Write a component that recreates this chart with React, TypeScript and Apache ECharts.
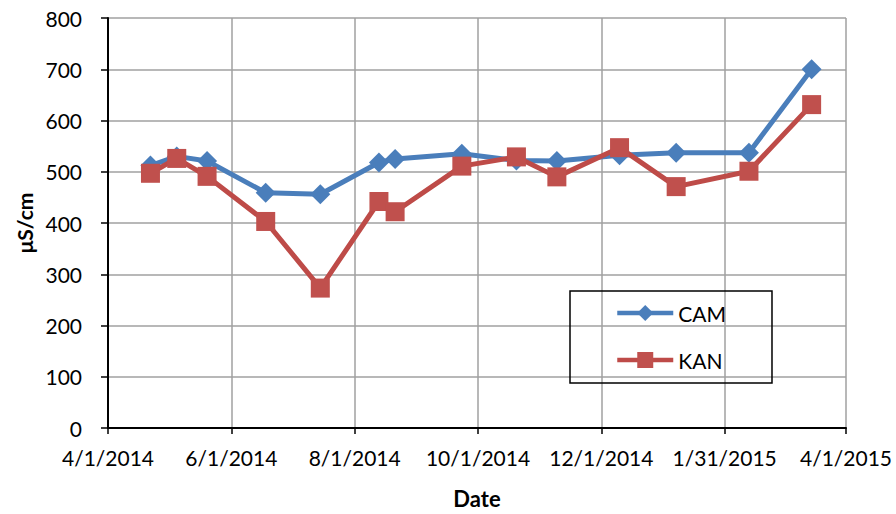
import React, { useEffect, useRef } from "react";
import * as echarts from "echarts";

const sampleDates = [
  "2014-04-22", "2014-05-05", "2014-05-20", "2014-06-18", "2014-07-15",
  "2014-08-13", "2014-08-21", "2014-09-23", "2014-10-20", "2014-11-09",
  "2014-12-10", "2015-01-07", "2015-02-12", "2015-03-15",
];
const camValues = [512, 530, 521, 459, 456, 518, 525, 535, 522, 521, 532, 537, 537, 700];
const kanValues = [497, 526, 491, 403, 273, 442, 422, 511, 529, 490, 547, 471, 501, 631];

const axisStartDate = "2014-04-01";
const axisDays = 365;
const tickStepDays = 61;
const yTickStep = 100;
const yMax = 800;

const DAY = 86400000;
const toUtc = (s: string) => {
  const [y, m, d] = s.split("-").map(Number);
  return Date.UTC(y, m - 1, d);
};
const dayOffset = (s: string) => Math.round((toUtc(s) - toUtc(axisStartDate)) / DAY);
const fmtDay = (v: number) => {
  const dt = new Date(toUtc(axisStartDate) + Math.round(v) * DAY);
  return `${dt.getUTCMonth() + 1}/${dt.getUTCDate()}/${dt.getUTCFullYear()}`;
};

export default function App() {
  const ref = useRef<HTMLDivElement>(null);
  useEffect(() => {
    if (!ref.current) return;
    const chart = echarts.init(ref.current, null, { renderer: "svg" });
    const font = "Lato, 'Open Sans', sans-serif";
    chart.setOption({
      animation: false,
      backgroundColor: "#ffffff",
      textStyle: { fontFamily: font },
      grid: { left: 108, right: 50, top: 18, bottom: 84, containLabel: false },
      legend: {
        orient: "vertical",
        left: 570,
        top: 291,
        width: 201,
        padding: [10, 46, 11, 45],
        itemGap: 23,
        itemWidth: 56,
        itemHeight: 20,
        borderColor: "#000000",
        borderWidth: 1.5,
        lineStyle: { width: 4.5 },
        textStyle: { fontSize: 21, color: "#000", fontFamily: font, lineHeight: 24 },
        data: ["CAM", "KAN"],
      },
      xAxis: {
        type: "value",
        min: 0,
        max: axisDays,
        interval: tickStepDays,
        name: "Date",
        nameLocation: "middle",
        nameGap: 59,
        nameTextStyle: { fontSize: 22, fontWeight: "bold", color: "#000", fontFamily: font },
        axisLine: { show: true, onZero: false, lineStyle: { color: "#000", width: 2 } },
        axisTick: { show: true, length: 6, lineStyle: { color: "#000", width: 1.5 } },
        axisLabel: {
          fontSize: 21,
          color: "#000",
          margin: 19,
          fontFamily: font,
          showMinLabel: true,
          showMaxLabel: true,
          formatter: (v: number) => fmtDay(v),
        },
        splitLine: { show: true, lineStyle: { color: "#a0a0a0", width: 1.5 } },
      },
      yAxis: {
        type: "value",
        min: 0,
        max: yMax,
        interval: yTickStep,
        name: "μS/cm",
        nameLocation: "middle",
        nameGap: 72,
        nameTextStyle: { fontSize: 21, fontWeight: "bold", color: "#000", fontFamily: font },
        axisLine: { show: true, lineStyle: { color: "#000", width: 2 } },
        axisTick: { show: true, length: 7, lineStyle: { color: "#000", width: 1.5 } },
        axisLabel: { fontSize: 21, color: "#000", margin: 26 },
        splitLine: { show: true, lineStyle: { color: "#a0a0a0", width: 1.5 } },
      },
      series: [
        {
          name: "CAM",
          type: "line",
          data: sampleDates.map((d, i) => [dayOffset(d), camValues[i]]),
          symbol: "diamond",
          symbolSize: 20,
          lineStyle: { color: "#4a7ebb", width: 5 },
          itemStyle: { color: "#4a7ebb" },
          z: 2,
        },
        {
          name: "KAN",
          type: "line",
          data: sampleDates.map((d, i) => [dayOffset(d), kanValues[i]]),
          symbol: "rect",
          symbolSize: 19,
          lineStyle: { color: "#be4b48", width: 5 },
          itemStyle: { color: "#c0504d" },
          z: 3,
        },
      ],
    });
    return () => chart.dispose();
  }, []);
  return (
    <div
      ref={ref}
      style={{ position: "fixed", left: 0, top: 0, width: 896, height: 514 }}
    />
  );
}
